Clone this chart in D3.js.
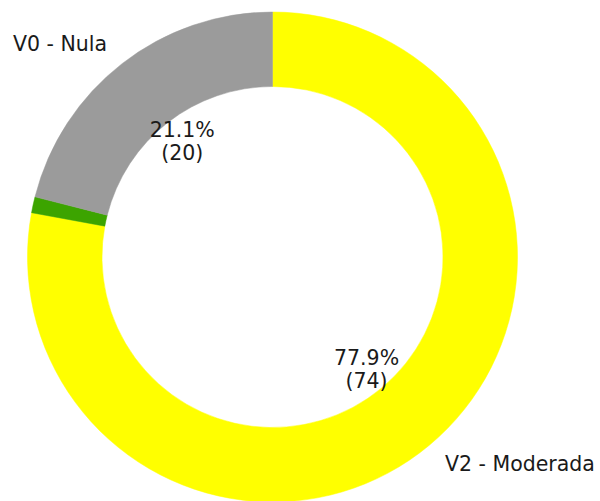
<!DOCTYPE html>
<html>
<head>
<meta charset="utf-8">
<script src="https://cdn.jsdelivr.net/npm/d3@7"></script>
<style>
  html, body { margin: 0; padding: 0; background: #fff; }
  svg { display: block; }
</style>
</head>
<body>
<svg id="chart" width="600" height="501"></svg>
<script>
const categories = ["V2 - Moderada", "V1 - Leve", "V0 - Nula"];
const values = [74, 1, 20];
const colors = ["#ffff00", "#3ca400", "#9b9b9b"];

const W = 600, H = 501;
const cx = 272.5, cy = 257, R = 245, innerR = 170.5;
const fontSize = 20.5;
const minLabelFrac = 0.05;

const svg = d3.select("#chart");
const g = svg.append("g").attr("transform", `translate(${cx},${cy})`);

const data = categories.map((c, i) => ({ name: c, value: values[i], color: colors[i] }));
const total = d3.sum(values);

const pie = d3.pie().value(d => d.value).sort(null).startAngle(0).endAngle(2 * Math.PI);
const arcs = pie(data);

const arc = d3.arc().innerRadius(innerR).outerRadius(R);

g.selectAll("path.slice")
  .data(arcs)
  .join("path")
  .attr("class", "slice")
  .attr("d", arc)
  .attr("fill", d => d.data.color)
  .attr("stroke", d => d.data.color)
  .attr("stroke-width", 0.5);

const visible = arcs.filter(d => d.data.value / total >= minLabelFrac);

const pos = (d, r) => {
  const a = (d.startAngle + d.endAngle) / 2;
  return [r * Math.sin(a), -r * Math.cos(a)];
};

g.selectAll("text.cat")
  .data(visible)
  .join("text")
  .attr("class", "cat")
  .attr("x", d => pos(d, 1.1 * R)[0])
  .attr("y", d => pos(d, 1.1 * R)[1])
  .attr("text-anchor", d => pos(d, 1)[0] < 0 ? "end" : "start")
  .attr("dominant-baseline", "central")
  .attr("font-family", "DejaVu Sans")
  .attr("font-size", fontSize)
  .attr("fill", "#1a1a1a")
  .text(d => d.data.name);

const pct = g.selectAll("text.pct")
  .data(visible)
  .join("text")
  .attr("class", "pct")
  .attr("text-anchor", "middle")
  .attr("font-family", "DejaVu Sans")
  .attr("font-size", fontSize)
  .attr("fill", "#1a1a1a");

pct.append("tspan")
  .attr("x", d => pos(d, 0.6 * R)[0])
  .attr("y", d => pos(d, 0.6 * R)[1] - 11.5)
  .attr("dominant-baseline", "central")
  .text(d => (d.data.value / total * 100).toFixed(1) + "%");

pct.append("tspan")
  .attr("x", d => pos(d, 0.6 * R)[0])
  .attr("y", d => pos(d, 0.6 * R)[1] + 11.5)
  .attr("dominant-baseline", "central")
  .text(d => "(" + d.data.value + ")");
</script>
</body>
</html>
